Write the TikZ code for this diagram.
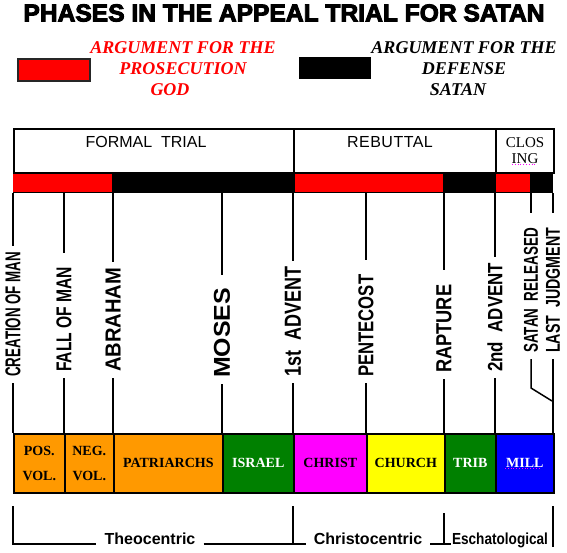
\documentclass[tikz,border=0pt]{standalone}
\usepackage{fontspec}
\setmainfont{Liberation Serif}
\setsansfont{Liberation Sans}
\newfontfamily\titlefont[FakeBold=4]{Liberation Sans Bold}
\newfontfamily\eventfont{Liberation Sans Bold}
\usepackage{graphicx}
\usetikzlibrary{positioning}
\definecolor{prosecution}{HTML}{FF0000}
\definecolor{patriarch}{HTML}{FF9900}
\definecolor{israel}{HTML}{008000}
\definecolor{christ}{HTML}{FF00FF}
\definecolor{church}{HTML}{FFFF00}
\definecolor{mill}{HTML}{0000FF}

\begin{document}
\begin{tikzpicture}[x=1pt,y=-1pt,
  phase/.style={draw,line width=2pt,anchor=north west,minimum height=44pt,inner sep=0pt},
  hdtext/.style={font=\sffamily\fontsize{16}{18}\selectfont,inner sep=0pt},
  legend/.style={align=center,inner sep=0pt,font=\bfseries\itshape\fontsize{18}{21}\selectfont},
  key/.style={fill=#1,anchor=north west,minimum width=72pt,minimum height=22pt,inner sep=0pt},
  argbar/.style={fill=#1,anchor=north west,minimum height=18pt,inner sep=0pt},
  era/.style={draw,line width=1.6pt,fill=#1,anchor=north west,minimum height=59pt,inner sep=0pt,
    align=center,font=\bfseries\fontsize{14}{16}\selectfont},
  evt/.style={rotate=90,anchor=west,inner xsep=6pt,inner ysep=0pt,font=\eventfont},
  tick/.style={line width=1.5pt},
  grp/.style={anchor=base,inner xsep=8pt,inner ysep=0pt,font=\sffamily\bfseries\fontsize{16}{19}\selectfont},
]
  \useasboundingbox (0,0) rectangle (567,553);

  % title and legend
  \node[font=\titlefont,inner sep=0pt] (title) at (284,13) {\resizebox{521pt}{17pt}{PHASES IN THE APPEAL TRIAL FOR SATAN}};
  \node[key=prosecution,draw=black!85,line width=2pt] (redkey) at (17,58) {};
  \node[legend,text=prosecution] (prosec) at (183,69) {ARGUMENT FOR THE\\PROSECUTION\\GOD\hspace*{26pt}};
  \node[key=black] (blackkey) at (299,57) {};
  \node[legend] (defense) at (464,69) {ARGUMENT FOR THE\\DEFENSE\hspace*{10pt}\\SATAN\hspace*{12pt}};

  % trial phases
  \node[fill=black,anchor=north west,minimum width=540pt,minimum height=21pt,inner sep=0pt] (bar) at (13,172) {};
  \node[argbar=prosecution,minimum width=99pt] (redA) at (13,174) {};
  \node[argbar=prosecution,minimum width=148pt] (redB) at (295,174) {};
  \node[argbar=prosecution,minimum width=34pt] (redC) at (496,174) {};
  \node[phase,minimum width=280pt] (formal) at (13,128) {};
  \node[phase,minimum width=202pt] (rebut) at (293,128) {};
  \node[phase,minimum width=58pt,align=center,font=\fontsize{15}{16}\selectfont] (closing) at (495,128) {CLOS\\ING};
  \node[hdtext] (formaltxt) at (146,142) {FORMAL\ \ TRIAL};
  \node[hdtext] (rebuttxt) at (390,142) {\addfontfeature{LetterSpace=3}REBUTTAL};
  \draw[christ,dotted,line width=0.8pt] (512,164) -- (536,164);

  % dispensations
  \node[era=patriarch,minimum width=51pt] (pos) at (13,433) {POS.\\[9pt]VOL.};
  \node[era=patriarch,minimum width=49pt] (neg) at (64,433) {NEG.\\[9pt]VOL.};
  \node[era=patriarch,minimum width=109pt] (patr) at (113,433) {PATRIARCHS};
  \node[era=israel,minimum width=71pt,text=white] (isr) at (222,433) {ISRAEL};
  \node[era=christ,minimum width=73pt] (chr) at (293,433) {CHRIST};
  \node[era=church,minimum width=78pt] (chu) at (366,433) {CHURCH};
  \node[era=israel,minimum width=51pt,text=white] (trib) at (444,433) {TRIB};
  \node[era=mill,minimum width=58pt,text=white] (mill) at (495,433) {MILL};
  \draw[christ,dotted,line width=0.8pt] (505,468) -- (539,468);

  % events
  \node[evt] (creation) at (13,383) {\resizebox{125pt}{15pt}{CREATION OF MAN}};
  \node[evt] (fall) at (64,378) {\resizebox{105pt}{15pt}{FALL OF MAN}};
  \node[evt] (abraham) at (113,378) {\resizebox{104pt}{15pt}{ABRAHAM}};
  \node[evt] (moses) at (222,384) {\resizebox{90pt}{16pt}{MOSES}};
  \node[evt] (advent1) at (293,383) {\resizebox{110pt}{16pt}{1st\ \ ADVENT}};
  \node[evt] (pentecost) at (366,383) {\resizebox{102pt}{15pt}{PENTECOST}};
  \node[evt] (rapture) at (444,379) {\resizebox{88pt}{15pt}{RAPTURE}};
  \node[evt] (advent2) at (495,378) {\resizebox{109pt}{15pt}{2nd\ \ ADVENT}};
  \node[evt] (released) at (531,359) {\resizebox{125pt}{14pt}{SATAN\ \ RELEASED}};
  \node[evt] (judgment) at (553,359) {\resizebox{125pt}{14pt}{LAST\ \ JUDGMENT}};

  \draw[tick] (creation.east) -- (creation.east |- bar.south);
  \draw[tick] (creation.west) -- (creation.west |- pos.north);
  \draw[tick,shorten <=8pt] (fall.east) -- (fall.east |- bar.south);
  \draw[tick] (fall.west) -- (fall.west |- pos.north);
  \draw[tick] (abraham.east) -- (abraham.east |- bar.south);
  \draw[tick] (abraham.west) -- (abraham.west |- pos.north);
  \draw[tick,shorten <=7pt] (moses.east) -- (moses.east |- bar.south);
  \draw[tick] (moses.west) -- (moses.west |- pos.north);
  \draw[tick] (advent1.east) -- (advent1.east |- bar.south);
  \draw[tick] (advent1.west) -- (advent1.west |- pos.north);
  \draw[tick,shorten <=9pt] (pentecost.east) -- (pentecost.east |- bar.south);
  \draw[tick] (pentecost.west) -- (pentecost.west |- pos.north);
  \draw[tick,shorten <=9pt] (rapture.east) -- (rapture.east |- bar.south);
  \draw[tick] (rapture.west) -- (rapture.west |- pos.north);
  \draw[tick] (advent2.east) -- (advent2.east |- bar.south);
  \draw[tick] (advent2.west) -- (advent2.west |- pos.north);
  \draw[tick,shorten <=9pt] (released.east) -- (released.east |- bar.south);
  \draw[tick,shorten <=9pt] (judgment.east) -- (judgment.east |- bar.south);
  \coordinate (merge) at (552,401);
  \draw[tick] (released.west) -- ++(0,29) -- (merge);
  \draw[tick] (judgment.west) -- (judgment.west |- mill.north);

  % groupings
  \node[grp] (theo) at (150,544) {Theocentric};
  \node[grp] (christo) at (368,544) {Christocentric};
  \node[grp,inner xsep=1pt] (escha) at (500,544) {\scalebox{0.85}[1]{Eschatological}};
  \draw[tick] (13,506) |- (theo.base west);
  \draw[tick] (theo.base east) -- (christo.base west);
  \draw[tick] (293,506) -- (293,544);
  \draw[tick] (christo.base east) -- (escha.base west);
  \draw[tick] (444,513) -- (444,544);
  \draw[tick] (553,506) -- (553,547);
\end{tikzpicture}
\end{document}
